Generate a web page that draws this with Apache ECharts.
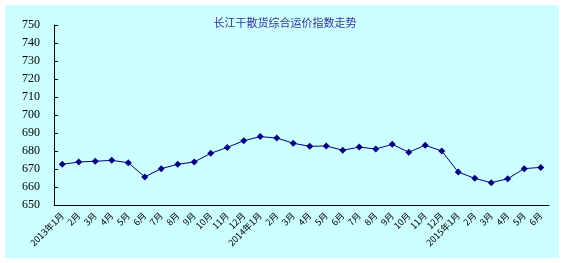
<!DOCTYPE html>
<html><head><meta charset="utf-8">
<script src="https://cdn.jsdelivr.net/npm/echarts@6/dist/echarts.min.js"></script>
<style>html,body{margin:0;padding:0;background:#fff}#c{width:564px;height:263px}</style>
</head><body><div id="c"></div>
<script>
const categories = ["2013年1月","2月","3月","4月","5月","6月","7月","8月","9月","10月","11月","12月",
  "2014年1月","2月","3月","4月","5月","6月","7月","8月","9月","10月","11月","12月",
  "2015年1月","2月","3月","4月","5月","6月"];
const indexValues = [672.6,673.9,674.3,674.8,673.5,665.6,670.2,672.6,673.9,678.7,682.0,685.7,
  688.0,687.2,684.3,682.6,682.8,680.4,682.2,681.1,683.7,679.3,683.2,680.0,
  668.3,664.8,662.4,664.6,670.2,670.9];
const yTicks = {min:650, max:750, interval:10};
const titleText = "长江干散货综合运价指数走势";

const chart = echarts.init(document.getElementById('c'), null, {renderer:'canvas'});
chart.setOption({
  animation:false,
  backgroundColor:'#ffffff',
  graphic:[{type:'rect', shape:{x:5,y:5,width:554,height:253}, style:{fill:'#ccffff'}, z:-10}],
  title:{text:titleText, left:280, top:12, textAlign:'center',
    textStyle:{fontSize:11, fontWeight:'normal', color:'#333399', fontFamily:'Noto Sans CJK SC'}},
  grid:{left:54, top:25, right:15, bottom:58, containLabel:false},
  xAxis:{type:'category', data:categories, boundaryGap:true,
    axisLine:{lineStyle:{color:'#000', width:1}},
    axisTick:{inside:true, length:4, lineStyle:{color:'#000'}},
    axisLabel:{rotate:45, fontSize:9, color:'#000', margin:9, interval:0, fontFamily:'Noto Sans CJK SC'},
    splitLine:{show:false}},
  yAxis:{type:'value', min:yTicks.min, max:yTicks.max, interval:yTicks.interval,
    axisLine:{show:true, lineStyle:{color:'#000', width:1}},
    axisTick:{show:true, inside:true, length:4, lineStyle:{color:'#000'}},
    axisLabel:{fontSize:12, color:'#000', margin:14, fontFamily:'Liberation Serif'},
    splitLine:{show:false}},
  series:[{type:'line', data:indexValues, symbol:'diamond', symbolSize:7,
    lineStyle:{color:'#000080', width:1}, itemStyle:{color:'#000080'}}]
});
</script></body></html>
